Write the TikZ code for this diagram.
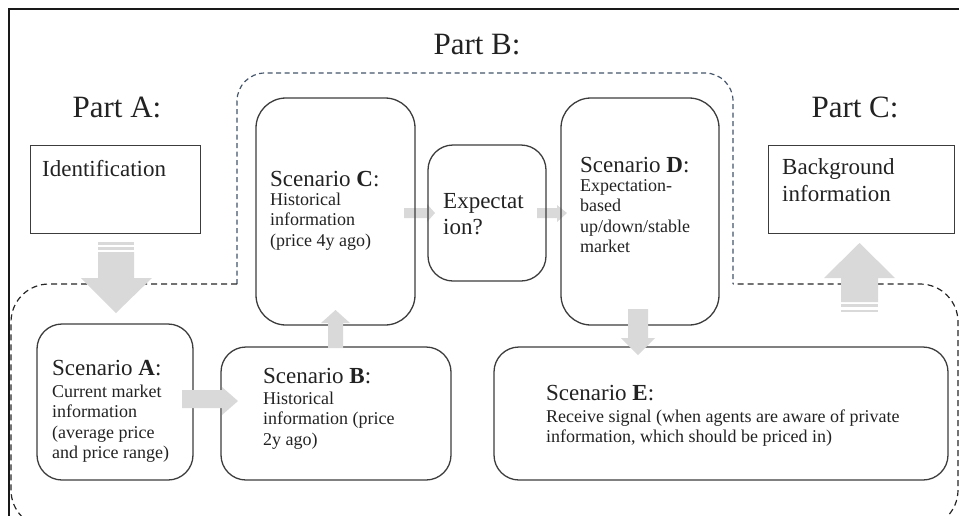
\documentclass[tikz,border=0pt]{standalone}
\usepackage{fontspec}
\setmainfont{Liberation Serif}
\definecolor{arrowgray}{HTML}{D9D9D9}
\definecolor{boxline}{HTML}{3C3C3C}
\definecolor{partb}{HTML}{44546A}
\definecolor{txtc}{HTML}{222222}
\newcommand\scenhead[1]{{\fontsize{23}{23}\selectfont #1}}
\begin{document}
\begin{tikzpicture}[x=1pt,y=-1pt,
  sbox/.style={draw=boxline,line width=1.3pt,rounded corners=#1,inner sep=0pt},
  sbox/.default=25pt,
  plainbox/.style={draw=boxline,line width=1pt,inner sep=0pt},
  txt/.style={font=\fontsize{18}{20.5}\selectfont,align=left,inner sep=0pt,anchor=north west,text=txtc},
  bigtxt/.style={font=\fontsize{23}{27}\selectfont,align=left,inner sep=0pt,anchor=north west,text=txtc},
  partlbl/.style={font=\fontsize{31}{31}\selectfont,inner sep=0pt,text=txtc},
  blockarrow/.style={fill=arrowgray,draw=none},
  partbline/.style={draw=partb,line width=1.2pt,dash pattern=on 5pt off 3.5pt,rounded corners=28pt},
  partacline/.style={draw=black!85,line width=1.2pt,dash pattern=on 6pt off 4pt,rounded corners=38pt}]
\useasboundingbox (0,0) rectangle (959,515);
\clip (0,0) rectangle (959,515);

% frame
\draw[line width=2pt,black!90] (9,540) -- (9,9) -- (980,9);

% dashed regions
\draw[partbline] (237,284) -- (237,73) -- (733,73) -- (733,284);
\draw[partacline] (237,284) -- (11,284) -- (11,528) -- (958,528) -- (958,284) -- (733,284);

% part labels
\node[partlbl] (pA) at (117,107) {Part A:};
\node[partlbl] (pB) at (477,45) {Part B:};
\node[partlbl] (pC) at (855,107) {Part C:};

% small arrows behind borders
\fill[blockarrow] (404,208) -- (427,208) -- (427,204) -- (435,213) -- (427,222) -- (427,218) -- (404,218) -- cycle;
\fill[blockarrow] (537,208) -- (557,208) -- (557,205) -- (567,213) -- (557,222) -- (557,218) -- (537,218) -- cycle;

% boxes
\node[plainbox,minimum width=170pt,minimum height=88pt] (idbox) at (115,189) {};
\node[plainbox,minimum width=186pt,minimum height=88pt] (bgbox) at (861,189) {};
\node[sbox=30pt,minimum width=159pt,minimum height=227pt] (boxC) at (335.5,211.5) {};
\node[sbox=25pt,minimum width=118pt,minimum height=136pt] (boxX) at (487,213) {};
\node[sbox=30pt,minimum width=158pt,minimum height=227pt] (boxD) at (640,211.5) {};
\node[sbox=25pt,minimum width=156pt,minimum height=156pt] (boxA) at (115,402) {};
\node[sbox=25pt,minimum width=230pt,minimum height=133pt] (boxB) at (336,413.5) {};
\node[sbox=25pt,minimum width=454pt,minimum height=133pt] (boxE) at (721,413.5) {};

% texts
\node[bigtxt] (tid) at (42,160) {Identification};
\node[bigtxt] (tbg) at (782,158) {Background\\information};
\node[txt] (tC) at (270,171) {\scenhead{Scenario \textbf{C}:}\\[-1.5pt]Historical\\information\\(price 4y ago)};
\node[bigtxt,font=\fontsize{23}{26}\selectfont] (tX) at (443,193) {Expectat\\ion?};
\node[txt] (tD) at (580,157) {\scenhead{Scenario \textbf{D}:}\\[-1.5pt]Expectation-\\based\\up/down/stable\\market};
\node[txt] (tA) at (52,360) {\scenhead{Scenario \textbf{A}:}\\[1.5pt]Current market\\information\\(average price\\and price range)};
\node[txt] (tB) at (263,368) {\scenhead{Scenario \textbf{B}:}\\[0.5pt]Historical\\information (price\\2y ago)};
\node[txt] (tE) at (546,385) {\scenhead{Scenario \textbf{E}:}\\[1.5pt]Receive signal (when agents are aware of private\\information, which should be priced in)};

% big arrows on top
\fill[blockarrow] (98,242) rectangle (134,244.5);
\fill[blockarrow] (98,246.5) rectangle (134,250);
\fill[blockarrow] (98,252) -- (134,252) -- (134,278) -- (152,278) -- (116,313) -- (81,278) -- (98,278) -- cycle;
\fill[blockarrow] (841,302) -- (841,278) -- (824,278) -- (859.5,243) -- (895,278) -- (878,278) -- (878,302) -- cycle;
\fill[blockarrow] (841,304) rectangle (878,307);
\fill[blockarrow] (841,309.5) rectangle (878,312);
\fill[blockarrow] (182,390) -- (222,390) -- (222,387) -- (238,401) -- (222,415) -- (222,408) -- (182,408) -- cycle;
\fill[blockarrow] (328,348) -- (328,323) -- (321,323) -- (335.5,310) -- (350,323) -- (343,323) -- (343,348) -- cycle;
\fill[blockarrow] (628,309) -- (648,309) -- (648,338) -- (655,338) -- (638,355) -- (621,338) -- (628,338) -- cycle;
\end{tikzpicture}
\end{document}
